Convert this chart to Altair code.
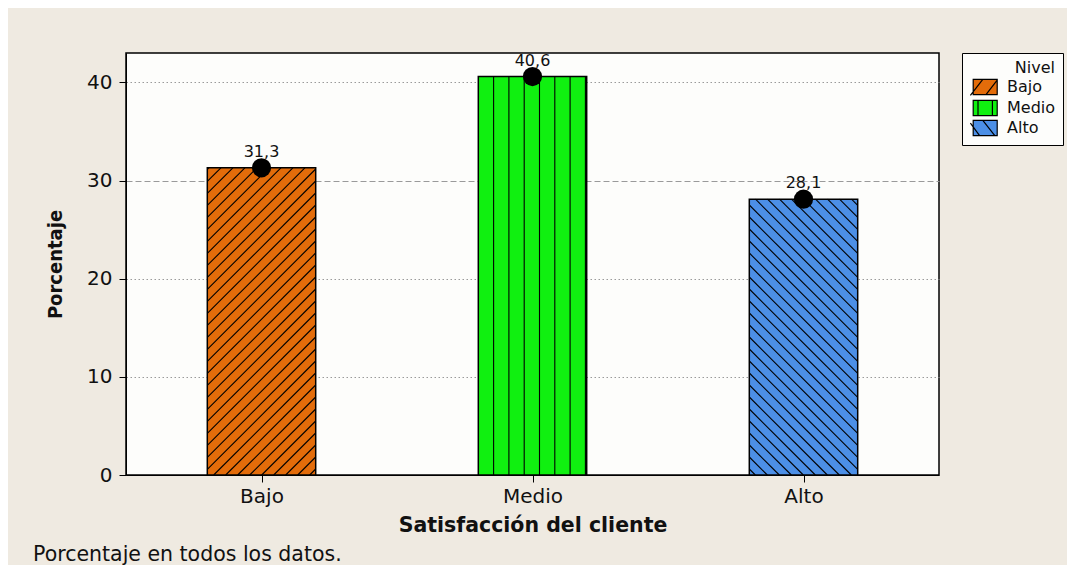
import json
import altair as alt
import pandas as pd

# ---- data ----
categories = ["Bajo", "Medio", "Alto"]
percentages = [31.3, 40.6, 28.1]
bar_colors = ["#e36c0a", "#10f010", "#4c8fe6"]
hatch_styles = ["/", "|", "\\"]
y_ticks = [0, 10, 20, 30, 40]

# ---- layout constants ----
W, H = 813, 422
Y_MAX = 43.0
HALF = 0.2
PX_X = W / 3.0
PX_Y = H / Y_MAX
HATCH_STEP = {"/": 12.0, "|": 15.3, "\\": 12.0}

bars = pd.DataFrame({
    "idx": list(range(len(categories))),
    "Nivel": categories,
    "pct": percentages,
    "col": bar_colors,
})
bars["x1"] = bars["idx"] - HALF
bars["x2"] = bars["idx"] + HALF
bars["base"] = 0.0
bars["label"] = [f"{v:.1f}".replace(".", ",") for v in percentages]

# hatch segments derived from the bar values (clipped to each bar)
rows = []
for i, (v, sty) in enumerate(zip(percentages, hatch_styles)):
    step = HATCH_STEP[sty]
    bw = 2 * HALF * PX_X
    bh = v * PX_Y
    x0 = i - HALF
    segs = []
    if sty == "|":
        u = step
        while u < bw - 1:
            segs.append((u, 0.0, u, bh))
            u += step
    elif sty == "/":
        c = -bw + step / 2
        while c < bh:
            us = max(0.0, -c)
            ue = min(bw, bh - c)
            if ue - us > 0.5:
                segs.append((us, us + c, ue, ue + c))
            c += step
    else:
        c = step / 2
        while c < bw + bh:
            us = max(0.0, c - bh)
            ue = min(bw, c)
            if ue - us > 0.5:
                segs.append((us, c - us, ue, c - ue))
            c += step
    for ua, va, ub, vb in segs:
        rows.append({"Nivel": categories[i],
                     "xa": x0 + ua / PX_X, "ya": va / PX_Y,
                     "xb": x0 + ub / PX_X, "yb": vb / PX_Y})
hatch = pd.DataFrame(rows)

legend_shapes = [
    "M-0.6,-0.95H2.4V0.95H-0.6Z M-0.95,1.05L0.6,-0.95 M1.0,0.95L2.4,-0.85",
    "M-0.6,-0.95H2.4V0.95H-0.6Z M0,-0.95V0.95 M1.8,-0.95V0.95",
    "M-0.6,-0.95H2.4V0.95H-0.6Z M-0.95,-0.6L0.2,0.95 M0.6,-0.95L2.1,0.95",
]

FONT = "DejaVu Sans"

x_scale = alt.Scale(domain=[-0.5, len(categories) - 0.5], nice=False, zero=False)
y_scale = alt.Scale(domain=[0, Y_MAX], nice=False)

label_expr = json.dumps(categories) + "[datum.value]"

x_axis = alt.Axis(
    values=list(range(len(categories))), labelExpr=label_expr,
    title="Satisfacción del cliente", grid=False,
    tickSize=7, labelPadding=4, tickColor="black", domainColor="black",
    labelFontSize=20, labelFont=FONT, labelColor="#111111",
    titleFontSize=20.5, titleFont=FONT, titleFontWeight="bold",
    titleColor="#111111", titlePadding=9,
)
y_axis = alt.Axis(
    values=y_ticks, title="Porcentaje", grid=True,
    gridColor="#9a9a9a", gridWidth=1,
    gridDash={"condition": {"test": "datum.value === 30", "value": [6, 3]},
              "value": [1.5, 2.5]},
    tickSize=7, labelPadding=7, tickColor="black", domainColor="black",
    labelFontSize=20, labelFont=FONT, labelColor="#111111",
    titleFontSize=20, titleFont="DejaVu Sans Condensed", titleFontWeight="bold",
    titleColor="#111111", titlePadding=21,
)

base = alt.Chart(bars)

rects = base.mark_rect(stroke="black", strokeWidth=1.5).encode(
    x=alt.X("x1:Q", scale=x_scale, axis=x_axis),
    x2="x2:Q",
    y=alt.Y("pct:Q", scale=y_scale, axis=y_axis),
    y2="base:Q",
    fill=alt.Fill("col:N", scale=None),
)

hatch_lines = alt.Chart(hatch).mark_rule(color="black", strokeWidth=1.1).encode(
    x=alt.X("xa:Q", scale=x_scale),
    x2="xb:Q",
    y=alt.Y("ya:Q", scale=y_scale),
    y2="yb:Q",
)

dots = base.mark_circle(color="black", size=370, opacity=1).encode(
    x=alt.X("idx:Q", scale=x_scale),
    y=alt.Y("pct:Q", scale=y_scale),
)

labels = base.mark_text(dy=-11, fontSize=16, font=FONT, baseline="alphabetic",
                        color="#111111").encode(
    x=alt.X("idx:Q", scale=x_scale),
    y=alt.Y("pct:Q", scale=y_scale),
    text="label:N",
)

legend_def = alt.Legend(
    title="Nivel", orient="right", offset=23, padding=7,
    strokeColor="black", fillColor="#fdfdfb",
    titleFont=FONT, titleFontSize=16, titleFontWeight="normal", titleColor="#111111",
    titleAnchor="end", titlePadding=2,
    labelFont=FONT, labelFontSize=16, labelColor="#111111", labelOffset=20,
    labelExpr="datum.label + '\u2002'",
    symbolSize=256, symbolStrokeColor="black", symbolStrokeWidth=1.2,
    symbolOpacity=1, rowPadding=0,
)

legend_layer = base.mark_point(filled=True, opacity=0, size=256).encode(
    x=alt.X("idx:Q", scale=x_scale),
    y=alt.Y("pct:Q", scale=y_scale),
    fill=alt.Fill("Nivel:N", scale=alt.Scale(domain=categories, range=bar_colors),
                  legend=legend_def),
    shape=alt.Shape("Nivel:N", scale=alt.Scale(domain=categories, range=legend_shapes),
                    legend=legend_def),
)

chart = alt.layer(rects, hatch_lines, dots, labels, legend_layer).properties(
    width=W, height=H,
    background="#efeae1",
    padding={"left": 25, "top": 44, "right": 3, "bottom": 0},
    title=alt.TitleParams(
        text="Porcentaje en todos los datos.", orient="bottom", anchor="start",
        frame="group", dx=-93, offset=9, fontSize=20.5, font=FONT,
        fontWeight="normal", color="#111111",
    ),
).configure_view(stroke="black", strokeWidth=1.5, fill="#fdfdfb")

chart.save("out.html", embed_options={"renderer": "svg", "actions": False})
